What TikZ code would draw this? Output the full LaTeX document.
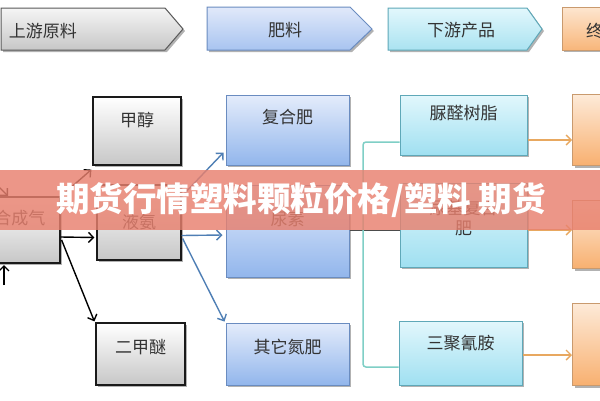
\documentclass[tikz,border=0pt]{standalone}
\usepackage{fontspec}
\newfontfamily\cjk{Noto Sans CJK SC}
\usetikzlibrary{arrows.meta,shadows,calc}
\definecolor{txt}{HTML}{333333}
\definecolor{gbd}{HTML}{1A1A1A}
\definecolor{bbd}{HTML}{6A8CC0}
\definecolor{cbd}{HTML}{5FA8B8}
\definecolor{obd}{HTML}{C99A6E}
\definecolor{barrow}{HTML}{4F7FB5}
\definecolor{oarrow}{HTML}{E8A860}
\definecolor{teal}{HTML}{7FCFC6}
\definecolor{banner}{HTML}{E8806E}
\tikzset{
  shad/.style={drop shadow={shadow xshift=2pt,shadow yshift=-2pt,fill=black,opacity=0.3}},
  gbox/.style={shad,draw=gbd,line width=1.2pt,top color=white,bottom color=black!22,inner sep=0pt},
  bbox/.style={shad,draw=bbd,line width=1pt,top color={rgb,255:red,228;green,236;blue,251},bottom color={rgb,255:red,146;green,182;blue,236},inner sep=0pt},
  cbox/.style={shad,draw=cbd,line width=1pt,top color={rgb,255:red,226;green,247;blue,252},bottom color={rgb,255:red,160;green,224;blue,241},inner sep=0pt},
  obox/.style={shad,draw=obd,line width=1pt,top color={rgb,255:red,253;green,234;blue,216},bottom color={rgb,255:red,248;green,176;blue,112},inner sep=0pt},
  lbl/.style={font=\cjk\fontsize{17}{20}\selectfont,text=txt,inner sep=0pt,align=center},
  hlbl/.style={font=\cjk\fontsize{17}{20}\selectfont,text=txt,inner sep=0pt},
  tip/.style={-{Straight Barb[length=5pt,width=10pt]}},
  karr/.style={tip,draw=black,line width=1.4pt},
  barr/.style={tip,draw=barrow,line width=1.4pt},
  oarr/.style={tip,draw=oarrow,line width=1.4pt},
}
\begin{document}
\begin{tikzpicture}[x=1pt,y=-1pt]
\useasboundingbox (0,0) rectangle (600,400);
\clip (0,0) rectangle (600,400);
\fill[white] (0,0) rectangle (600,400);
% header chevrons
\path[shad,draw=black!65,line width=1pt,top color=black!4,bottom color=black!22] (1,8) -- (165,8) -- (183,29) -- (165,50) -- (1,50) -- cycle;
\node[hlbl] (h1) at (43,31) {上游原料};
\path[shad,draw=bbd,line width=1pt,top color={rgb,255:red,225;green,233;blue,250},bottom color={rgb,255:red,168;green,196;blue,240}] (207,7) -- (350,7) -- (372,29) -- (350,50) -- (207,50) -- cycle;
\node[hlbl] (h2) at (285,30) {肥料};
\path[shad,draw=cbd,line width=1pt,top color={rgb,255:red,226;green,247;blue,252},bottom color={rgb,255:red,170;green,227;blue,241}] (388,8) -- (527,8) -- (542,29) -- (527,50) -- (388,50) -- cycle;
\node[hlbl] (h3) at (461,30) {下游产品};
\path[shad,draw=obd,line width=1pt,top color={rgb,255:red,253;green,230;blue,208},bottom color={rgb,255:red,248;green,182;blue,122}] (562,7) -- (640,7) -- (640,50) -- (562,50) -- cycle;
\node[hlbl,anchor=west] (h4) at (586,31) {终端产品};
% gray column
\node[gbox,minimum width=80,minimum height=66] (syn) at (20,230) {};
\node[lbl] (synl) at (20,218) {合成气};
\node[gbox,minimum width=88,minimum height=68] (mj) at (137,131) {};
\node[lbl] (mjl) at (137,120) {甲醇};
\node[gbox,minimum width=84,minimum height=75] (ya) at (139,222.5) {};
\node[lbl] (yal) at (139,222) {液氨};
\node[gbox,minimum width=89,minimum height=62] (dme) at (140.5,354) {};
\node[lbl] (dmel) at (140.5,347) {二甲醚};
% blue column
\node[bbox,minimum width=123,minimum height=70] (fhf) at (287.5,130) {};
\node[lbl] (fhfl) at (287.5,117) {复合肥};
\node[bbox,minimum width=123,minimum height=92] (ns) at (287.5,231) {};
\node[lbl] (nsl) at (287.5,219) {尿素};
\node[bbox,minimum width=123,minimum height=62] (qt) at (287.5,354) {};
\node[lbl] (qtl) at (287.5,347) {其它氮肥};
% cyan column
\node[cbox,minimum width=127,minimum height=60] (nq) at (463.5,125) {};
\node[lbl] (nql) at (463.5,113) {脲醛树脂};
\node[cbox,minimum width=127,minimum height=84] (cf) at (463.5,225) {};
\node[lbl] (cfl) at (463.5,218) {尿基复合\\肥};
\node[cbox,minimum width=123,minimum height=64] (sj) at (460.5,353) {};
\node[lbl] (sjl) at (460.5,343) {三聚氰胺};
% orange column
\node[obox,minimum width=60,minimum height=71,anchor=north west] (o1) at (572,94) {};
\node[obox,minimum width=60,minimum height=68,anchor=north west] (o2) at (572,200) {};
\node[obox,minimum width=60,minimum height=82,anchor=north west] (o3) at (572,303) {};
% incoming arrows at left
\coordinate (inA) at (-8,180);
\coordinate (inAt) at (8,196);
\coordinate (inB) at (4,285);
\coordinate (inBt) at (4,265);
\draw[karr] (inA) -- (inAt);
\draw[karr] (inB) -- (inBt);
% black arrows from syngas
\draw[karr] (syn.north east) -- ($(mj.south west)+(-1,4)$);
\draw[karr] ($(syn.east)+(0,7)$) -- ($(ya.west)+(-2,15)$);
\draw[karr] ($(syn.east)+(1,10)$) -- ($(dme.north west)+(-1,-1)$);
% blue arrows from ammonia
\draw[barr] ($(ya.north east)+(0,12)$) -- ($(fhf.south west)+(-2,-13)$);
\draw[barr] ($(ya.east)+(0,13)$) -- ($(ns.west)+(-3,4)$);
\draw[barr] ($(ya.east)+(1,16)$) -- ($(qt.north west)+(-1,-1)$);
% urea to downstream
\draw[draw=black!70,line width=1pt] ($(ns.east)+(0,-1)$) -- (cf.west |- {$(ns.east)+(0,-1)$});
\draw[draw=teal,line width=1.5pt,rounded corners=3pt] ($(nq.west)+(0,17)$) -| (363,300) |- ($(sj.west)+(0,14)$);
% orange arrows
\draw[oarr] ($(nq.east)+(0,15)$) -- (o1.west |- {$(nq.east)+(0,15)$});
\draw[oarr] ($(cf.east)+(0,5)$) -- (o2.west |- {$(cf.east)+(0,5)$});
\draw[oarr] ($(sj.east)+(0,2)$) -- (o3.west |- {$(sj.east)+(0,2)$});
% banner overlay
\fill[banner,opacity=0.82] (0,170) rectangle (600,230);
\node[font=\cjk\bfseries\fontsize{33.5}{36}\selectfont,text=white,inner sep=0pt] (ban) at (301,200) {期货行情塑料颗粒价格/塑料 期货};
\end{tikzpicture}
\end{document}
